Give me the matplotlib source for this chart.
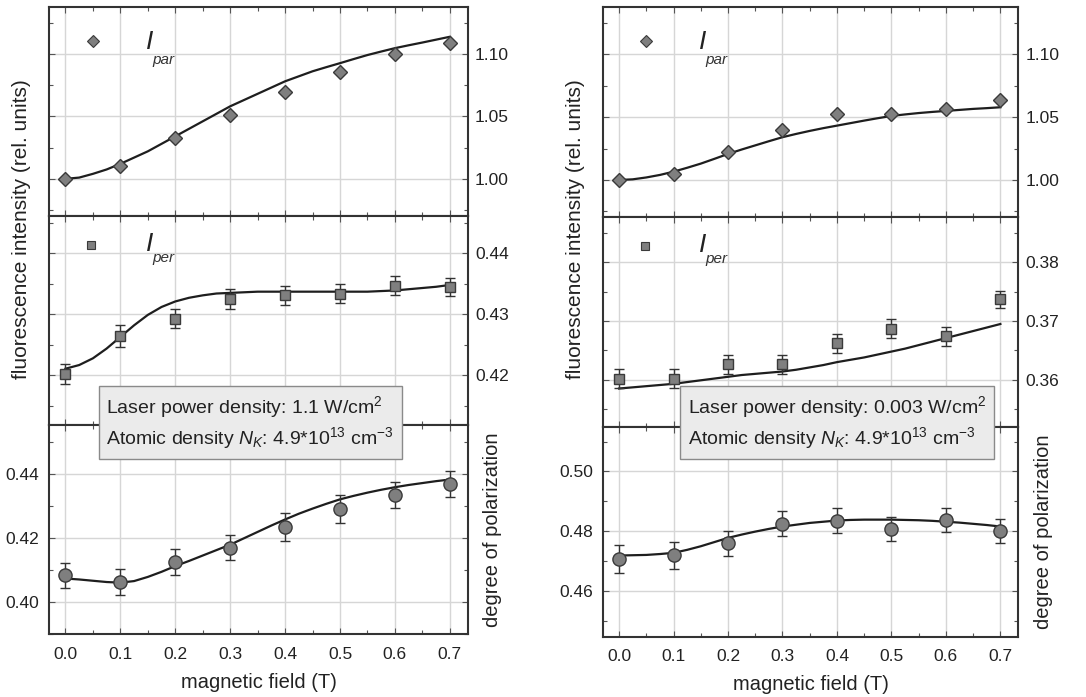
import matplotlib.pyplot as plt
from matplotlib.ticker import MultipleLocator, FormatStrFormatter

plt.rcParams['font.family'] = ['Liberation Sans', 'DejaVu Sans']
plt.rcParams['mathtext.fontset'] = 'custom'
plt.rcParams['mathtext.rm'] = 'Liberation Sans'
plt.rcParams['mathtext.it'] = 'Liberation Sans:italic'

# measured points
field = [0.0, 0.1, 0.2, 0.3, 0.4, 0.5, 0.6, 0.7]
# fitted curves, sampled every 0.025 T
field_fit = [0.0, 0.025, 0.05, 0.075, 0.1, 0.125, 0.15, 0.175, 0.2, 0.225,
             0.25, 0.275, 0.3, 0.325, 0.35, 0.375, 0.4, 0.425, 0.45, 0.475,
             0.5, 0.525, 0.55, 0.575, 0.6, 0.625, 0.65, 0.675, 0.7]

# high laser power (1.1 W/cm2)
par_hi = [1.000, 1.0104, 1.0326, 1.0512, 1.0694, 1.0854, 1.100, 1.1083]
par_hi_fit = [1.000, 1.001, 1.004, 1.0075, 1.012, 1.017, 1.022, 1.028, 1.034,
              1.040, 1.046, 1.052, 1.058, 1.063, 1.068, 1.073, 1.078, 1.082,
              1.086, 1.0893, 1.0925, 1.0958, 1.099, 1.1018, 1.1045, 1.1068,
              1.109, 1.1113, 1.1136]
per_hi = [0.4202, 0.4265, 0.4293, 0.4325, 0.4331, 0.4334, 0.4347, 0.4345]
per_hi_err = [0.0016, 0.0018, 0.0016, 0.0017, 0.0016, 0.0016, 0.0016, 0.0015]
per_hi_fit = [0.4211, 0.4217, 0.4228, 0.4244, 0.4263, 0.4282, 0.4299, 0.4312,
              0.4321, 0.4327, 0.4331, 0.4334, 0.4335, 0.4336, 0.4337, 0.4337,
              0.4337, 0.4337, 0.4337, 0.4337, 0.4337, 0.4337, 0.4337, 0.4338,
              0.4339, 0.4341, 0.4343, 0.4345, 0.4348]
pol_hi = [0.4083, 0.4062, 0.4125, 0.4170, 0.4234, 0.4291, 0.4334, 0.4369]
pol_hi_err = [0.004, 0.004, 0.004, 0.004, 0.0045, 0.0043, 0.004, 0.004]
pol_hi_fit = [0.4073, 0.4070, 0.4066, 0.4062, 0.4060, 0.4065, 0.4078, 0.4094,
              0.4112, 0.4128, 0.4145, 0.4162, 0.4179, 0.4199, 0.4219, 0.4239,
              0.4258, 0.4276, 0.4292, 0.4307, 0.4321, 0.4332, 0.4342, 0.4351,
              0.4359, 0.4366, 0.4372, 0.4378, 0.4383]

# low laser power (0.003 W/cm2)
par_lo = [1.000, 1.0048, 1.022, 1.0395, 1.0525, 1.0522, 1.0565, 1.0637]
par_lo_fit = [1.000, 1.0005, 1.002, 1.004, 1.0066, 1.0097, 1.013, 1.0168,
              1.0207, 1.0242, 1.0275, 1.0308, 1.034, 1.0366, 1.039, 1.0412,
              1.0432, 1.0452, 1.0472, 1.0491, 1.0509, 1.0521, 1.0532, 1.0541,
              1.0549, 1.0557, 1.0565, 1.0571, 1.0578]
per_lo = [0.3602, 0.3602, 0.3626, 0.3626, 0.3662, 0.3687, 0.3674, 0.3737]
per_lo_err = [0.0016, 0.0016, 0.0016, 0.0016, 0.0016, 0.0016, 0.0016, 0.0015]
per_lo_fit = [0.3585, 0.3587, 0.3589, 0.3591, 0.3593, 0.3596, 0.3599, 0.3602,
              0.3605, 0.3608, 0.3610, 0.3612, 0.3614, 0.3617, 0.3621, 0.3625,
              0.3630, 0.3634, 0.3638, 0.3643, 0.3648, 0.3653, 0.3659, 0.3665,
              0.3671, 0.3677, 0.3683, 0.3689, 0.3695]
pol_lo = [0.4706, 0.4720, 0.4760, 0.4825, 0.4835, 0.4809, 0.4838, 0.4800]
pol_lo_err = [0.0047, 0.0045, 0.0042, 0.0042, 0.0042, 0.004, 0.004, 0.004]
pol_lo_fit = [0.4719, 0.4720, 0.4721, 0.4724, 0.4728, 0.4738, 0.4750, 0.4764,
              0.4778, 0.4789, 0.4799, 0.4808, 0.4816, 0.4822, 0.4828, 0.4832,
              0.4836, 0.4838, 0.4839, 0.4839, 0.4839, 0.4838, 0.4837, 0.4835,
              0.4832, 0.4829, 0.4825, 0.4821, 0.4816]

x_ticks = [0.0, 0.1, 0.2, 0.3, 0.4, 0.5, 0.6, 0.7]

EDGE = '#3a3a3a'
FACE = '#7f7f7f'
LINE = '#1e1e1e'
GRID = '#d6d6d6'
TXT = '#222222'


def style_axis(ax, ylim, major, minor, label_right):
    ax.set_xlim(-0.03, 0.733)
    ax.set_ylim(*ylim)
    ax.xaxis.set_major_locator(MultipleLocator(0.1))
    ax.xaxis.set_minor_locator(MultipleLocator(0.05))
    ax.yaxis.set_major_locator(MultipleLocator(major))
    ax.yaxis.set_minor_locator(MultipleLocator(minor))
    ax.yaxis.set_major_formatter(FormatStrFormatter('%.2f'))
    ax.grid(True, which='major', color=GRID, lw=1.0)
    ax.set_axisbelow(True)
    for s in ax.spines.values():
        s.set_color('#333333')
        s.set_linewidth(1.5)
    ax.tick_params(which='both', direction='in', top=True, right=True,
                   color='#555555', labelsize=12.5, labelcolor=TXT)
    ax.tick_params(which='major', length=4, width=0.8)
    ax.tick_params(which='minor', length=3, width=0.8)
    if label_right:
        ax.tick_params(axis='y', labelleft=False, labelright=True, pad=5)
    else:
        ax.tick_params(axis='y', labelleft=True, labelright=False, pad=7)


def draw_column(axs, par, par_fit, per, per_err, per_fit,
                pol, pol_err, pol_fit, lims, box_text, box_x):
    ax1, ax2, ax3 = axs
    # parallel component
    ax1.plot(field_fit, par_fit, color=LINE, lw=1.6, zorder=3)
    ax1.plot(field, par, ls='none', marker='D', ms=7.5, mfc=FACE, mec=EDGE,
             mew=1.0, zorder=4)
    ax1.plot([0.05], [lims[0][0] + 0.838 * (lims[0][1] - lims[0][0])],
             marker='D', ms=6, mfc=FACE, mec=EDGE, mew=0.8, ls='none')
    style_axis(ax1, lims[0], 0.05, 0.025, True)

    # perpendicular component
    ax2.plot(field_fit, per_fit, color=LINE, lw=1.6, zorder=3)
    ax2.errorbar(field, per, yerr=per_err, ls='none', marker='s', ms=7,
                 mfc=FACE, mec=EDGE, mew=1.0, ecolor='#333333', elinewidth=1.0,
                 capsize=3.5, capthick=1.0, zorder=4)
    ax2.plot([0.047], [lims[1][0] + 0.86 * (lims[1][1] - lims[1][0])],
             marker='s', ms=5.5, mfc=FACE, mec=EDGE, mew=0.8, ls='none')
    style_axis(ax2, lims[1], 0.01, 0.005, True)

    # degree of polarization
    ax3.plot(field_fit, pol_fit, color=LINE, lw=1.6, zorder=3)
    ax3.errorbar(field, pol, yerr=pol_err, ls='none', marker='o', ms=9.5,
                 mfc=FACE, mec=EDGE, mew=1.0, ecolor='#333333', elinewidth=1.0,
                 capsize=3.5, capthick=1.0, zorder=4)
    style_axis(ax3, lims[2], 0.02, 0.01, False)
    ax3.set_xticks(x_ticks)
    ax3.xaxis.set_major_formatter(FormatStrFormatter('%.1f'))
    ax3.tick_params(axis='x', pad=9)
    ax3.set_xlabel('magnetic field (T)', fontsize=14.5, color=TXT,
                   labelpad=8)
    ax3.yaxis.set_label_position('right')
    ax3.set_ylabel('degree of polarization', fontsize=14.5, color=TXT,
                   labelpad=11)

    # component labels I_par / I_per
    for ax, sub, yi, ys in ((ax1, 'par', 0.832, 0.746),
                            (ax2, 'per', 0.866, 0.799)):
        ax.text(0.153, yi, 'I', transform=ax.get_xaxis_transform(),
                fontsize=19, style='italic', ha='center', va='center',
                color=TXT)
        ax.text(0.158, ys, sub, transform=ax.get_xaxis_transform(),
                fontsize=11, style='italic', ha='left', va='center',
                color='#333333')

    fig.text(box_x, 0.394, box_text, fontsize=14, color=TXT,
             ha='left', va='center', linespacing=1.3, zorder=10,
             bbox=dict(boxstyle='square,pad=0.4', fc='#ebebeb',
                       ec='#8a8a8a', lw=1.0))


fig = plt.figure(figsize=(10.86, 6.97), dpi=100)
left_axes = [fig.add_axes([0.0451, 0.9903 - (i + 1) * 0.3, 0.3858, 0.3])
             for i in range(3)]
right_axes = [fig.add_axes([0.555, 0.9903 - (i + 1) * 0.3012, 0.3827, 0.3012])
              for i in range(3)]
for axs in (left_axes, right_axes):
    axs[0].sharex(axs[2])
    axs[1].sharex(axs[2])
    axs[0].tick_params(labelbottom=False)
    axs[1].tick_params(labelbottom=False)

draw_column(left_axes, par_hi, par_hi_fit, per_hi, per_hi_err, per_hi_fit,
            pol_hi, pol_hi_err, pol_hi_fit,
            [(0.9704, 1.1376), (0.4119, 0.4461), (0.3899, 0.4554)],
            'Laser power density: 1.1 W/cm$^{2}$\n'
            'Atomic density $N_{K}$: 4.9*10$^{13}$ cm$^{-3}$', 0.098)
draw_column(right_axes, par_lo, par_lo_fit, per_lo, per_lo_err, per_lo_fit,
            pol_lo, pol_lo_err, pol_lo_fit,
            [(0.9708, 1.1377), (0.3520, 0.3878), (0.4448, 0.5150)],
            'Laser power density: 0.003 W/cm$^{2}$\n'
            'Atomic density $N_{K}$: 4.9*10$^{13}$ cm$^{-3}$', 0.6335)

for xpos in (0.020, 0.5295):
    fig.text(xpos, 0.671, 'fluorescence intensity (rel. units)', rotation=90,
             fontsize=15, color=TXT, ha='center', va='center')

fig.savefig('out.png', dpi=100, facecolor='white')
